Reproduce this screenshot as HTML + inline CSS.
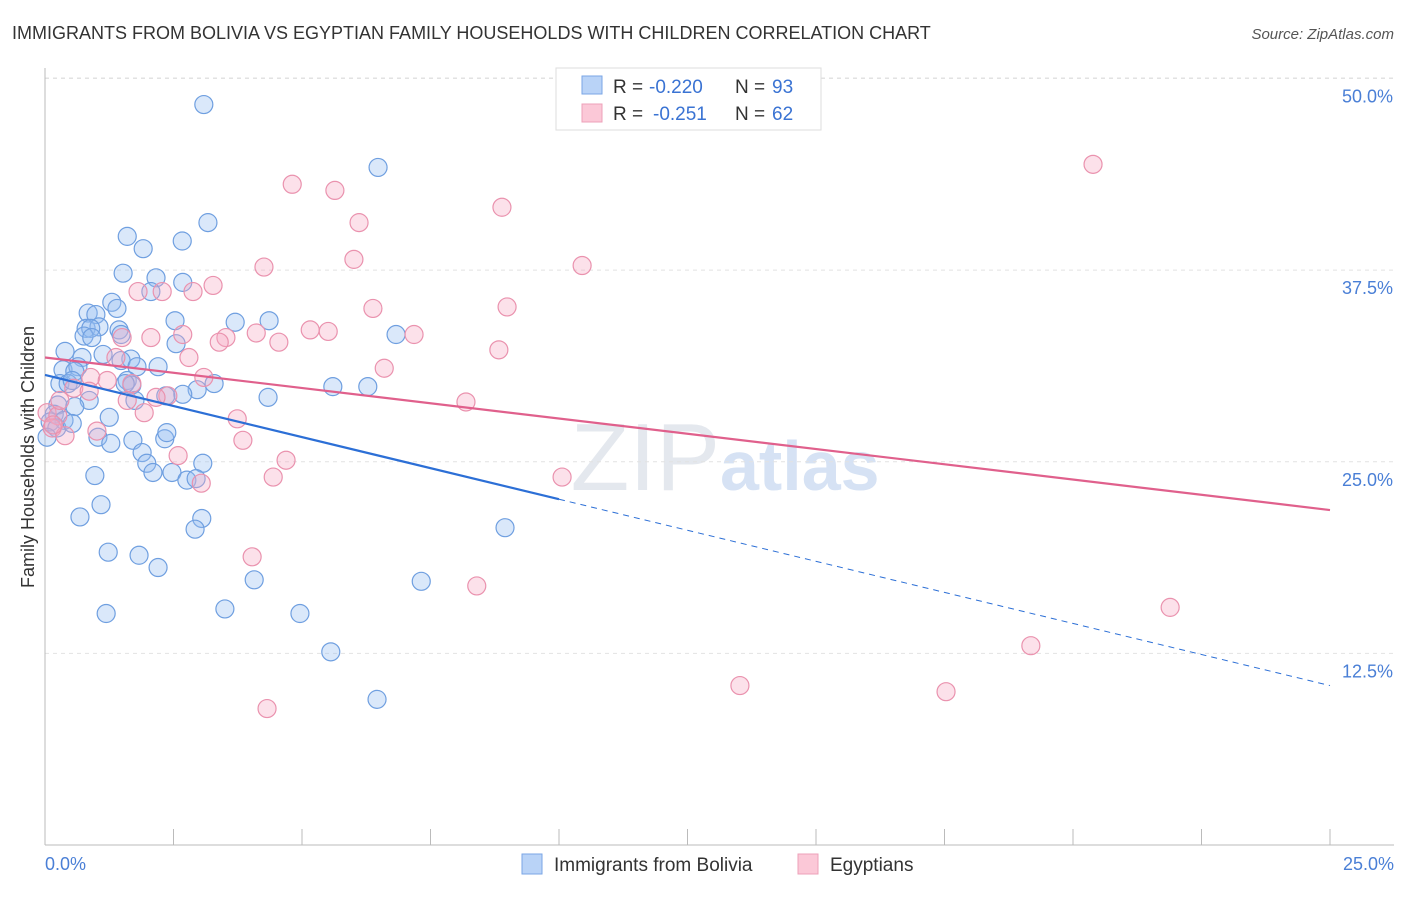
<!DOCTYPE html>
<html><head><meta charset="utf-8"><style>
body{margin:0;background:#fff;font-family:"Liberation Sans",sans-serif}
svg text{font-family:"Liberation Sans",sans-serif}
</style></head><body>
<svg id="c" width="1406" height="892">
<text x="12" y="39" font-size="18" fill="#333">IMMIGRANTS FROM BOLIVIA VS EGYPTIAN FAMILY HOUSEHOLDS WITH CHILDREN CORRELATION CHART</text>
<text x="1394" y="39" font-size="15" fill="#555" font-style="italic" text-anchor="end">Source: ZipAtlas.com</text>
<text x="720" y="490" font-size="96" fill="#e4e8ee" text-anchor="end" font-family="Liberation Serif">ZIP</text>
<text x="720" y="490" font-size="70" fill="#d6e2f4" font-weight="bold">atlas</text>
<g id="grid"></g><g id="pts"></g><g id="lines"></g>
<text transform="translate(34,457) rotate(-90)" font-size="18" fill="#333" text-anchor="middle">Family Households with Children</text>
<text x="45" y="870" font-size="18" fill="#4a7fd6">0.0%</text>
<text x="1394" y="870" font-size="18" fill="#4a7fd6" text-anchor="end">25.0%</text>
<g>
<rect x="556" y="68" width="265" height="62" fill="#fff" stroke="#ddd"/>
<rect x="582" y="76" width="20" height="18" fill="#b9d3f7" stroke="#7aa6e6"/>
<rect x="582" y="104" width="20" height="18" fill="#fbc8d7" stroke="#eea0b8"/>
<text x="613" y="93" font-size="19" fill="#333">R =</text>
<text x="649" y="93" font-size="19" fill="#3a73d3">-0.220</text>
<text x="735" y="93" font-size="19" fill="#333">N =</text>
<text x="772" y="93" font-size="19" fill="#3a73d3">93</text>
<text x="613" y="120" font-size="19" fill="#333">R =</text>
<text x="653" y="120" font-size="19" fill="#3a73d3">-0.251</text>
<text x="735" y="120" font-size="19" fill="#333">N =</text>
<text x="772" y="120" font-size="19" fill="#3a73d3">62</text>
</g>
<g>
<rect x="522" y="854" width="20" height="20" fill="#b9d3f7" stroke="#7aa6e6"/>
<text x="554" y="871" font-size="19" fill="#333">Immigrants from Bolivia</text>
<rect x="798" y="854" width="20" height="20" fill="#fbc8d7" stroke="#eea0b8"/>
<text x="830" y="871" font-size="19" fill="#333">Egyptians</text>
</g>
</svg>
<script>
const yTicks=[12.5,25,37.5,50];
const yTickLabels=["12.5%","25.0%","37.5%","50.0%"];
const xTicks=[0,2.5,5,7.5,10,12.5,15,17.5,20,22.5,25];
const boliviaX=[3.09,6.48,3.17,1.60,2.67,1.91,1.52,2.16,2.68,2.06,1.30,1.40,0.84,0.99,2.53,3.70,4.36,0.80,1.05,0.89,1.44,0.76,0.91,1.48,2.55,6.83,0.39,1.13,1.67,0.72,1.48,1.79,2.20,0.35,0.64,0.58,0.29,0.45,0.53,1.60,1.69,1.56,3.29,5.60,6.28,2.96,2.68,4.34,0.86,1.75,2.35,0.25,0.58,0.18,0.37,0.10,0.23,0.04,0.53,1.25,1.03,1.28,1.71,2.33,2.37,1.89,1.98,2.10,2.47,3.07,2.76,2.94,0.97,1.09,0.68,3.05,2.92,8.95,1.23,1.83,2.20,4.07,7.32,1.19,3.50,4.96,5.56,6.46];
const boliviaY=[48.3,44.2,40.6,39.7,39.4,38.9,37.3,37.0,36.7,36.1,35.4,35.0,34.7,34.6,34.2,34.1,34.2,33.7,33.8,33.7,33.6,33.2,33.1,33.3,32.7,33.3,32.2,32.0,31.7,31.8,31.6,31.2,31.2,31.0,31.2,30.9,30.1,30.1,30.3,30.3,30.0,30.1,30.1,29.9,29.9,29.7,29.4,29.2,29.0,29.0,29.3,28.7,28.6,28.1,27.7,27.6,27.2,26.6,27.5,27.9,26.6,26.2,26.4,26.5,26.9,25.6,24.9,24.3,24.3,24.9,23.8,23.9,24.1,22.2,21.4,21.3,20.6,20.7,19.1,18.9,18.1,17.3,17.2,15.1,15.4,15.1,12.6,9.5];
const egyptX=[20.39,4.81,5.64,8.89,6.11,6.01,4.26,10.45,3.27,2.88,1.81,2.28,6.38,8.99,5.16,5.51,7.18,2.68,2.06,1.50,3.52,3.39,4.55,4.11,8.83,1.38,2.80,6.60,0.89,3.09,1.21,1.69,0.56,0.86,2.39,2.16,1.60,1.93,3.74,8.19,0.04,0.25,0.14,0.39,1.01,3.85,2.59,4.69,3.04,4.44,10.06,4.03,8.40,21.89,19.18,13.52,17.53,4.32,0.16,0.29];
const egyptY=[44.4,43.1,42.7,41.6,40.6,38.2,37.7,37.8,36.5,36.1,36.1,36.1,35.0,35.1,33.6,33.5,33.3,33.3,33.1,33.1,33.1,32.8,32.8,33.4,32.3,31.8,31.8,31.1,30.5,30.5,30.3,30.1,29.8,29.6,29.3,29.2,29.0,28.2,27.8,28.9,28.2,28.0,27.2,26.7,27.0,26.4,25.4,25.1,23.6,24.0,24.0,18.8,16.9,15.5,13.0,10.4,10.0,8.9,27.4,29.0];
const boliviaTrend=[30.66,10.4];
const egyptTrend=[31.8,21.85];
const NS="http://www.w3.org/2000/svg";
const X=v=>45+v*51.4, Y=v=>845-v*15.33;
function mk(t,a,p){const e=document.createElementNS(NS,t);for(const k in a)e.setAttribute(k,a[k]);p.appendChild(e);return e;}
const g=document.getElementById('grid');
yTicks.forEach((t,i)=>{
 const l=mk('line',{x1:45,x2:1394,y1:Y(t),y2:Y(t),stroke:'#e2e2e2','stroke-dasharray':'4,4'},g);
 
 
 const tx=mk('text',{x:1393,y:Y(t)+24,'font-size':18,fill:'#4a7fd6','text-anchor':'end'},g);
 tx.textContent=yTickLabels[i];
 
 
});
const topLine=mk('line',{x1:45,x2:1394,y1:78,y2:78,stroke:'#e2e2e2','stroke-dasharray':'4,4'},g);


const ya=mk('line',{x1:45,x2:45,y1:68,y2:845,stroke:'#bbb'},g);


const xa=mk('line',{x1:45,x2:1394,y1:845,y2:845,stroke:'#bbb'},g);


xTicks.forEach(t=>{
 const l=mk('line',{x1:X(t),x2:X(t),y1:829,y2:845,stroke:'#bbb'},g);
 
 
});
const p=document.getElementById('pts');
boliviaX.forEach((x,i)=>{
 const c=mk('circle',{cx:X(x),cy:Y(boliviaY[i]),r:9,fill:'rgba(150,190,240,0.35)',stroke:'#6f9fe0','stroke-width':1.2},p);
 
 
});
egyptX.forEach((x,i)=>{
 const c=mk('circle',{cx:X(x),cy:Y(egyptY[i]),r:9,fill:'rgba(246,170,195,0.35)',stroke:'#ea92ae','stroke-width':1.2},p);
 
 
});
const L=document.getElementById('lines');
const bAt=x=>boliviaTrend[0]+(boliviaTrend[1]-boliviaTrend[0])*x/25;
const b1=mk('line',{x1:X(0),y1:Y(bAt(0)),x2:X(10),y2:Y(bAt(10)),stroke:'#2c6fd6','stroke-width':2.2},L);


const b2=mk('line',{x1:X(10),y1:Y(bAt(10)),x2:X(25),y2:Y(bAt(25)),stroke:'#2c6fd6','stroke-width':1,'stroke-dasharray':'6,5'},L);


const e1=mk('line',{x1:X(0),y1:Y(egyptTrend[0]),x2:X(25),y2:Y(egyptTrend[1]),stroke:'#e0608c','stroke-width':2.2},L);


</script>
</body></html>
